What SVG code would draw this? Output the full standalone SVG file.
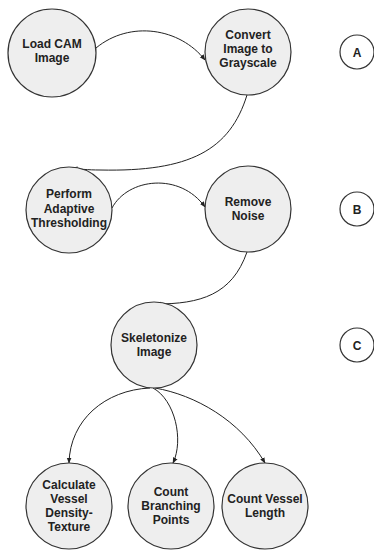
<svg xmlns="http://www.w3.org/2000/svg" width="374" height="550" viewBox="0 0 374 550">
<style>
.n{fill:#eeeeee;stroke:#333;stroke-width:1.2}
.l{fill:#fff;stroke:#333;stroke-width:1.2}
text{font-family:"Liberation Sans",Arial,sans-serif;font-weight:bold;font-size:12px;fill:#222;text-anchor:middle}
.e{fill:none;stroke:#222;stroke-width:1}
</style>
<defs>
<marker id="ah" viewBox="0 0 10 10" refX="9" refY="5" markerWidth="6" markerHeight="6" orient="auto" markerUnits="userSpaceOnUse">
<path d="M0,1 L10,5 L0,9 z" fill="#222"/>
</marker>
</defs>
<rect width="374" height="550" fill="#fff"/>
<g id="edges">
<path class="e" marker-end="url(#ah)" d="M96,48 C130,20 180,28 205,60"/>
<path class="e" marker-end="url(#ah)" d="M247,95 C230,150 190,172 100,170 C88,170 78,169 72,168"/>
<path class="e" marker-end="url(#ah)" d="M112,208 C128,178 180,172 205,207"/>
<path class="e" marker-end="url(#ah)" d="M247,252 C232,295 200,304 156,304"/>
<path class="e" marker-end="url(#ah)" d="M150,388 C105,390 70,420 69,463"/>
<path class="e" marker-end="url(#ah)" d="M153,388 C175,400 184,440 173,463"/>
<path class="e" marker-end="url(#ah)" d="M155,388 C195,395 240,420 265,463"/>
</g>
<g id="n1"><circle class="n" cx="52" cy="53" r="44"/><text x="52" y="47.5">Load CAM</text><text x="52" y="61.5">Image</text></g>
<g id="n2"><circle class="n" cx="248" cy="52" r="43"/><text x="248" y="39">Convert</text><text x="248" y="53">Image to</text><text x="248" y="67">Grayscale</text></g>
<g id="n3"><circle class="n" cx="69" cy="210" r="43"/><text x="69" y="198">Perform</text><text x="69" y="213">Adaptive</text><text x="69" y="227">Thresholding</text></g>
<g id="n4"><circle class="n" cx="248" cy="209" r="43"/><text x="248" y="206">Remove</text><text x="248" y="220">Noise</text></g>
<g id="n5"><circle class="n" cx="154" cy="345" r="43"/><text x="154" y="342">Skeletonize</text><text x="154" y="356">Image</text></g>
<g id="n6"><circle class="n" cx="69" cy="506" r="43"/><text x="69" y="489">Calculate</text><text x="69" y="503">Vessel</text><text x="69" y="517">Density-</text><text x="69" y="531">Texture</text></g>
<g id="n7"><circle class="n" cx="171" cy="506" r="43"/><text x="171" y="496">Count</text><text x="171" y="510">Branching</text><text x="171" y="524">Points</text></g>
<g id="n8"><circle class="n" cx="265" cy="506" r="43"/><text x="265" y="503">Count Vessel</text><text x="265" y="517">Length</text></g>
<g id="lA"><circle class="l" cx="357" cy="52" r="17"/><text x="357" y="57" font-size="13">A</text></g>
<g id="lB"><circle class="l" cx="357" cy="209" r="17"/><text x="357" y="214" font-size="13">B</text></g>
<g id="lC"><circle class="l" cx="357" cy="345" r="17"/><text x="357" y="350" font-size="13">C</text></g>
</svg>
